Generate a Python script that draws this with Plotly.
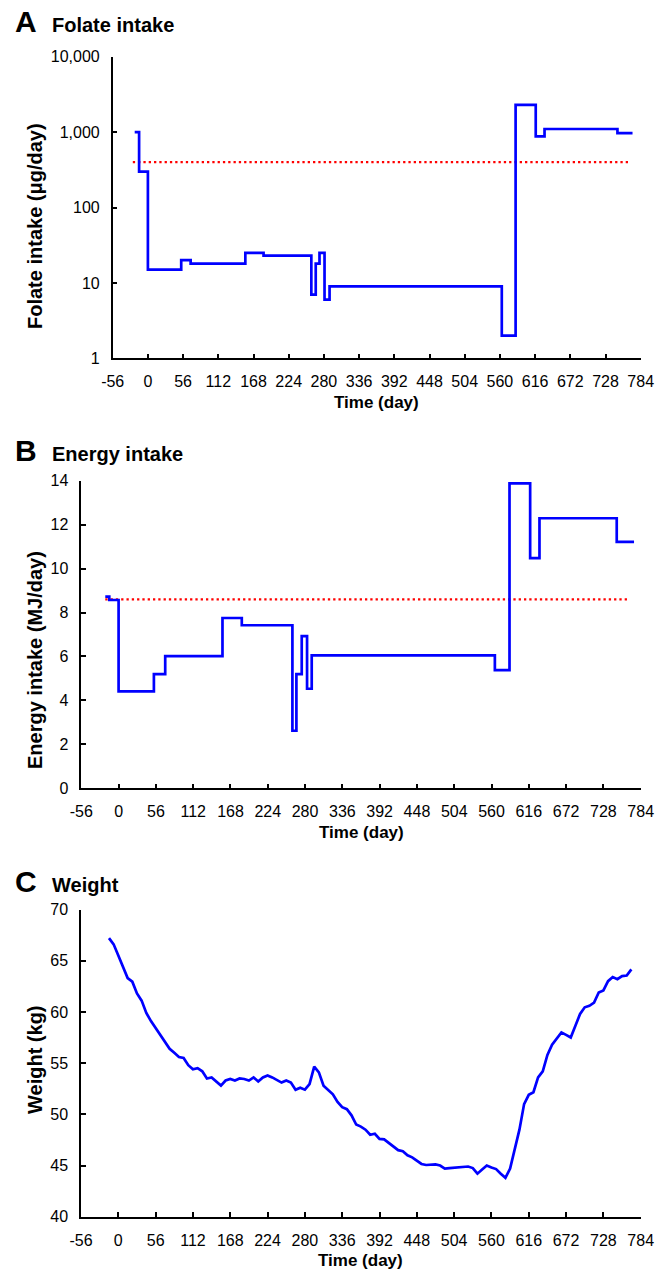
import plotly.graph_objects as go

# ---------------- data ----------------
time_ticks = list(range(-56, 785, 56))
time_ticktext = [str(t) for t in time_ticks]

folate_days = [-21, -14, 0, 53, 68, 155, 184, 260, 267, 273, 281, 289, 563, 585, 617, 631, 747, 771]
folate_vals = [1000, 300, 15, 20, 18, 25, 23, 7, 18, 25, 6, 9, 2, 2300, 880, 1100, 970, 970]
folate_ref_days = [-24, 768]
folate_ref_vals = [400, 400]
folate_tickvals = [1, 10, 100, 1000, 10000]
folate_ticktext = ["1", "10", "100", "1,000", "10,000"]

energy_days = [-20, -14, 0, 53, 70, 156, 185, 261, 267, 275, 283, 290, 565, 587, 618, 632, 748, 774]
energy_vals = [8.72, 8.57, 4.41, 5.2, 6.02, 7.75, 7.42, 2.62, 5.2, 6.93, 4.53, 6.05, 5.38, 13.88, 10.48, 12.29, 11.22, 11.22]
energy_ref_days = [-20, 767]
energy_ref_vals = [8.6, 8.6]
energy_tickvals = list(range(0, 15, 2))

weight_days = [-14, -7, 0, 7, 14, 21, 28, 35, 42, 49, 56, 63, 70, 77, 84, 91, 98, 105, 112, 119,
               126, 133, 140, 147, 154, 161, 168, 175, 182, 189, 196, 203, 210, 217, 224, 231, 238,
               245, 252, 259, 266, 273, 280, 287, 294, 301, 308, 315, 322, 329, 336, 343, 350, 357,
               364, 371, 378, 385, 392, 399, 406, 413, 420, 427, 434, 441, 448, 455, 462, 469, 476,
               483, 490, 497, 504, 511, 518, 525, 532, 539, 546, 553, 560, 567, 574, 581, 588, 595,
               602, 609, 616, 623, 630, 637, 644, 651, 658, 665, 672, 679, 686, 693, 700, 707, 714,
               721, 728, 735, 742, 749, 756, 763, 770]
weight_vals = [67.2, 66.6, 65.5, 64.4, 63.3, 62.95, 61.8, 61.1, 59.9, 59.1, 58.4, 57.7, 57.0, 56.4,
               56.0, 55.6, 55.5, 54.8, 54.4, 54.5, 54.2, 53.5, 53.6, 53.2, 52.8, 53.3, 53.45, 53.3,
               53.5, 53.45, 53.3, 53.6, 53.2, 53.6, 53.8, 53.6, 53.35, 53.1, 53.3, 53.1, 52.4, 52.6,
               52.4, 52.95, 54.65, 54.1, 52.8, 52.4, 51.95, 51.2, 50.7, 50.5, 49.9, 49.0, 48.8, 48.5,
               48.0, 48.1, 47.6, 47.55, 47.2, 46.8, 46.5, 46.4, 46.0, 45.8, 45.5, 45.15, 45.05, 45.05,
               45.1, 45.0, 44.7, 44.75, 44.8, 44.8, 44.85, 44.9, 44.75, 44.2, 44.6, 45.0, 44.8, 44.65,
               44.2, 43.8, 44.7, 46.7, 48.5, 51.0, 51.9, 52.15, 53.6, 54.2, 55.8, 56.8, 57.4, 58.0,
               57.75, 57.5, 58.65, 59.8, 60.45, 60.6, 60.9, 61.9, 62.1, 63.0, 63.4, 63.2, 63.5, 63.55,
               64.15]
weight_tickvals = list(range(40, 71, 5))

# ---------------- layout helpers ----------------
W, H = 657, 1272
FONT = "Liberation Sans, Arial, Helvetica, sans-serif"
BLUE = "#0000FF"
RED = "#FF0000"


def px_x(v):
    return v / W


def px_y(v):
    return 1 - v / H


panels = {
    "A": dict(x0=112.7, x1=640.7, y0=56.7, y1=358.3),
    "B": dict(x0=81.3, x1=640.7, y0=480.7, y1=788.3),
    "C": dict(x0=81.0, x1=640.7, y0=909.5, y1=1216.7),
}

fig = go.Figure()

fig.add_trace(go.Scatter(x=folate_ref_days, y=folate_ref_vals, mode="lines",
                         line=dict(color=RED, width=2.3, dash="2.3px,3px"),
                         xaxis="x", yaxis="y", showlegend=False))
fig.add_trace(go.Scatter(x=folate_days, y=folate_vals, mode="lines", line_shape="hv",
                         line=dict(color=BLUE, width=2.7), xaxis="x", yaxis="y", showlegend=False))

fig.add_trace(go.Scatter(x=energy_ref_days, y=energy_ref_vals, mode="lines",
                         line=dict(color=RED, width=2.3, dash="2.3px,3px"),
                         xaxis="x2", yaxis="y2", showlegend=False))
fig.add_trace(go.Scatter(x=energy_days, y=energy_vals, mode="lines", line_shape="hv",
                         line=dict(color=BLUE, width=2.7), xaxis="x2", yaxis="y2", showlegend=False))

fig.add_trace(go.Scatter(x=weight_days, y=weight_vals, mode="lines",
                         line=dict(color=BLUE, width=2.7), xaxis="x3", yaxis="y3", showlegend=False))

axis_common = dict(showline=True, linecolor="black", linewidth=1.5, showgrid=False, zeroline=False,
                   ticks="inside", ticklen=5, tickwidth=1.5, tickcolor="black", automargin=False,
                   tickfont=dict(family=FONT, size=16, color="black"))

layout_axes = {}
for i, key in enumerate(["A", "B", "C"]):
    p = panels[key]
    sfx = "" if i == 0 else str(i + 1)
    layout_axes["xaxis" + sfx] = dict(axis_common, domain=[px_x(p["x0"]), px_x(p["x1"])],
                                      range=[-56, 784], tickvals=time_ticks, ticktext=time_ticktext,
                                      anchor="y" + sfx, ticklabelstandoff=8)
    layout_axes["yaxis" + sfx] = dict(axis_common, domain=[px_y(p["y1"]), px_y(p["y0"])],
                                      anchor="x" + sfx, ticklabelstandoff=8)

layout_axes["yaxis"].update(type="log", range=[0, 4], tickvals=folate_tickvals, ticktext=folate_ticktext)
layout_axes["yaxis2"].update(range=[0, 14], tickvals=energy_tickvals)
layout_axes["yaxis3"].update(range=[40, 70], tickvals=weight_tickvals)

annotations = []
titles = [("A", "Folate intake", 33, "Folate intake (μg/day)", 226),
          ("B", "Energy intake", 462, "Energy intake (MJ/day)", 660),
          ("C", "Weight", 893, "Weight (kg)", 1060)]
for key, title, base, ytitle, ycen in titles:
    p = panels[key]
    annotations.append(dict(text="<b>%s</b>" % key, x=px_x(13), y=px_y(base + 7), xref="paper", yref="paper",
                            xanchor="left", yanchor="bottom", showarrow=False,
                            font=dict(family=FONT, size=30, color="black")))
    annotations.append(dict(text="<b>%s</b>" % title, x=px_x(50), y=px_y(base + 5), xref="paper", yref="paper",
                            xanchor="left", yanchor="bottom", showarrow=False,
                            font=dict(family=FONT, size=20, color="black")))
    annotations.append(dict(text="<b>%s</b>" % ytitle, x=px_x(35), y=px_y(ycen), xref="paper", yref="paper",
                            xanchor="center", yanchor="middle", textangle=-90, showarrow=False,
                            font=dict(family=FONT, size=20, color="black")))
    annotations.append(dict(text="<b>Time (day)</b>", x=px_x((p["x0"] + p["x1"]) / 2), y=px_y(p["y1"] + 44),
                            xref="paper", yref="paper", xanchor="center", yanchor="middle", showarrow=False,
                            font=dict(family=FONT, size=17, color="black")))

fig.update_layout(width=W, height=H, margin=dict(l=0, r=0, t=0, b=0, pad=0, autoexpand=False),
                  template="none",
                  paper_bgcolor="white", plot_bgcolor="white", showlegend=False,
                  annotations=annotations, **layout_axes)

fig.write_html("out.html", config={"displayModeBar": False},
               post_script="document.body.style.margin='0px';document.body.style.overflow='hidden';")
